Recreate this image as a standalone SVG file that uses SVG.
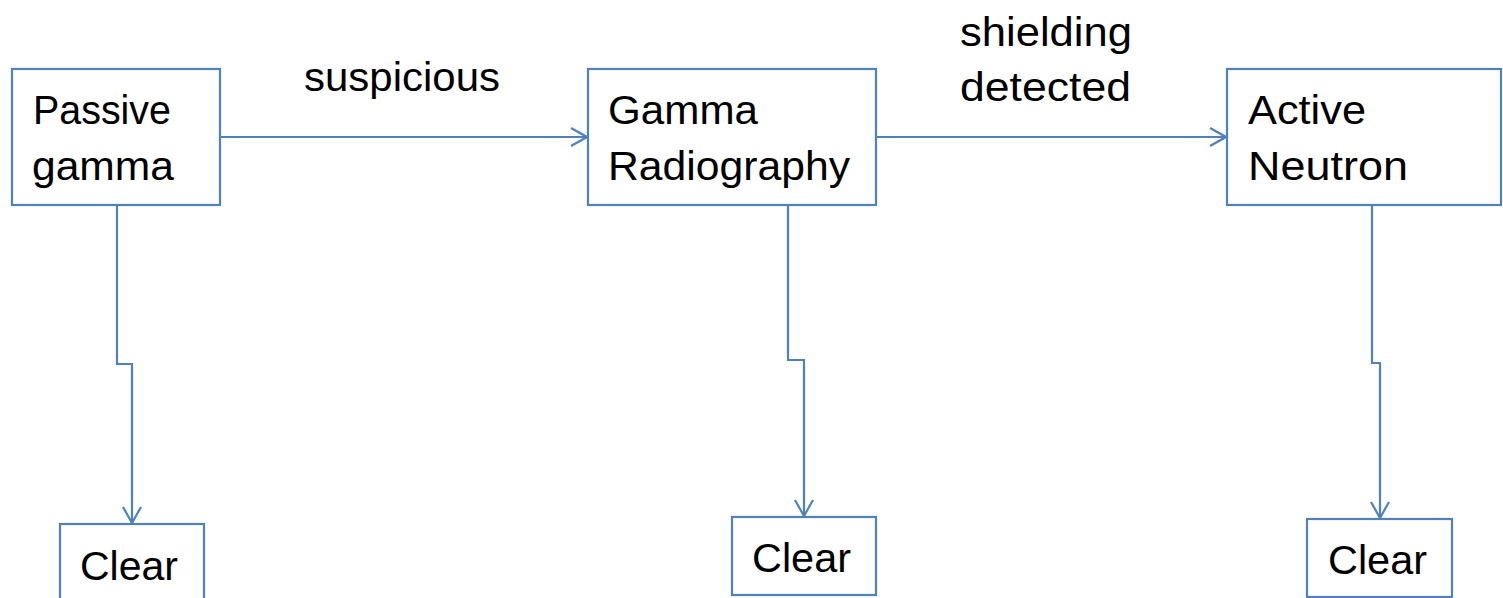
<svg xmlns="http://www.w3.org/2000/svg" width="1503" height="598" viewBox="0 0 1503 598">
<style>
.box{fill:#fff;stroke:#4F81BD;stroke-width:2.2}
.ln{fill:none;stroke:#4F81BD;stroke-width:2.2}
text{font-family:"Liberation Sans",Arial,sans-serif;font-size:41px;fill:#000}
</style>
<defs>
<marker id="arr" viewBox="0 0 20 20" refX="18" refY="10" markerWidth="20" markerHeight="20" markerUnits="userSpaceOnUse" orient="auto">
<path d="M2,1 L18,10 L2,19" fill="none" stroke="#4F81BD" stroke-width="2.2"/>
</marker>
</defs>
<rect width="1503" height="598" fill="#fff"/>
<g id="connectors">
<path class="ln" d="M220,137 H587" marker-end="url(#arr)"/>
<path class="ln" d="M876,137 H1226" marker-end="url(#arr)"/>
<path class="ln" d="M117,205 V364 H132 V523" marker-end="url(#arr)"/>
<path class="ln" d="M788,205 V360 H804 V516" marker-end="url(#arr)"/>
<path class="ln" d="M1372,205 V363 H1380 V518" marker-end="url(#arr)"/>
<text x="304" y="91" textLength="196" lengthAdjust="spacingAndGlyphs">suspicious</text>
<text x="960" y="46" textLength="172" lengthAdjust="spacingAndGlyphs">shielding</text>
<text x="960" y="101" textLength="171" lengthAdjust="spacingAndGlyphs">detected</text>
</g>
<g id="passive">
<rect class="box" x="12" y="69" width="208" height="136"/>
<text x="33" y="124" textLength="138" lengthAdjust="spacingAndGlyphs">Passive</text>
<text x="32" y="180" textLength="142" lengthAdjust="spacingAndGlyphs">gamma</text>
</g>
<g id="radiography">
<rect class="box" x="588" y="69" width="288" height="136"/>
<text x="608" y="124" textLength="150" lengthAdjust="spacingAndGlyphs">Gamma</text>
<text x="608" y="180" textLength="242" lengthAdjust="spacingAndGlyphs">Radiography</text>
</g>
<g id="neutron">
<rect class="box" x="1227" y="69" width="274" height="136"/>
<text x="1248" y="124" textLength="118" lengthAdjust="spacingAndGlyphs">Active</text>
<text x="1248" y="180" textLength="160" lengthAdjust="spacingAndGlyphs">Neutron</text>
</g>
<g id="clear1">
<rect class="box" x="60" y="524" width="144" height="80"/>
<text x="80" y="580" textLength="98" lengthAdjust="spacingAndGlyphs">Clear</text>
</g>
<g id="clear2">
<rect class="box" x="732" y="517" width="144" height="78"/>
<text x="752" y="572" textLength="99" lengthAdjust="spacingAndGlyphs">Clear</text>
</g>
<g id="clear3">
<rect class="box" x="1307" y="519" width="145" height="78"/>
<text x="1328" y="574" textLength="99" lengthAdjust="spacingAndGlyphs">Clear</text>
</g>
</svg>
